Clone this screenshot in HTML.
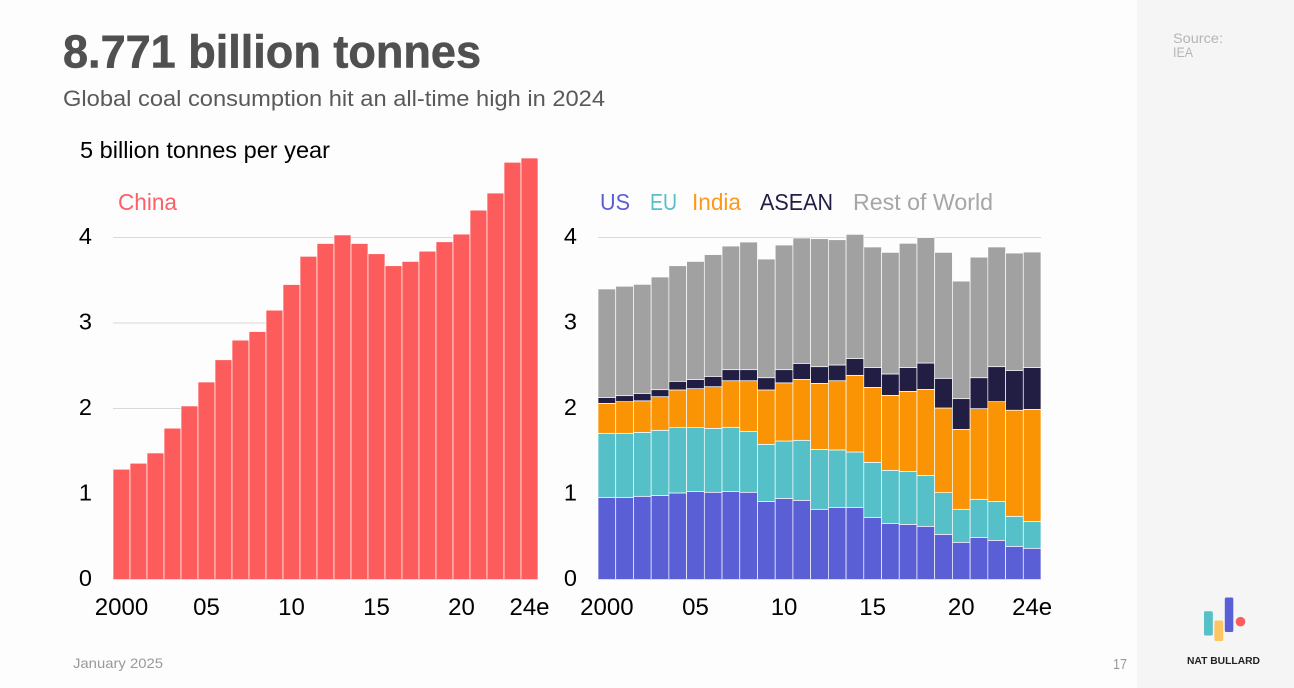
<!DOCTYPE html>
<html lang="en">
<head>
<meta charset="utf-8">
<title>8.771 billion tonnes</title>
<style>
html,body{margin:0;padding:0;background:#fdfdfe;}
body{width:1294px;height:688px;overflow:hidden;}
svg{display:block;font-family:"Liberation Sans",sans-serif;}
</style>
</head>
<body>
<svg id="slide" width="1294" height="688" viewBox="0 0 1294 688" xmlns="http://www.w3.org/2000/svg">
  <rect x="0" y="0" width="1294" height="688" fill="#fdfdfe"/>
  <rect x="1137" y="0" width="157" height="688" fill="#f5f5f6"/>

  <text x="63" y="67.5" font-size="46" font-weight="700" fill="#505050" stroke="#505050" stroke-width="0.6" textLength="418" lengthAdjust="spacingAndGlyphs">8.771 billion tonnes</text>
  <text x="63" y="106" font-size="22" fill="#595959" textLength="542" lengthAdjust="spacingAndGlyphs">Global coal consumption hit an all-time high in 2024</text>

  <text x="1173" y="43" font-size="13.5" fill="#b5b5b5" textLength="50" lengthAdjust="spacingAndGlyphs">Source:</text>
  <text x="1173" y="57" font-size="13.5" fill="#b5b5b5" textLength="20" lengthAdjust="spacingAndGlyphs">IEA</text>

  <text x="80" y="158" font-size="23" fill="#000" textLength="250" lengthAdjust="spacingAndGlyphs">5 billion tonnes per year</text>
  <text x="118" y="210" font-size="23" fill="#fc6065" textLength="59" lengthAdjust="spacingAndGlyphs">China</text>

  <text x="600" y="210" font-size="23" fill="#5a5fd6" textLength="30" lengthAdjust="spacingAndGlyphs">US</text>
  <text x="650" y="210" font-size="23" fill="#55c0c8" textLength="27" lengthAdjust="spacingAndGlyphs">EU</text>
  <text x="692" y="210" font-size="23" fill="#fb9a1a" textLength="49" lengthAdjust="spacingAndGlyphs">India</text>
  <text x="760" y="210" font-size="23" fill="#221e43" textLength="73" lengthAdjust="spacingAndGlyphs">ASEAN</text>
  <text x="853" y="210" font-size="23" fill="#a6a6a6" textLength="140" lengthAdjust="spacingAndGlyphs">Rest of World</text>

  <g id="left-chart"></g>
  <g id="right-chart"></g>

  <text x="73" y="668" font-size="14" fill="#999" textLength="90" lengthAdjust="spacingAndGlyphs">January 2025</text>
  <text x="1113" y="669" font-size="15" fill="#999" textLength="14" lengthAdjust="spacingAndGlyphs">17</text>

  <g>
    <rect x="1204" y="611.3" width="8.8" height="24.2" rx="1.5" fill="#55c0c8"/>
    <rect x="1214.4" y="620.5" width="8.8" height="20.5" rx="1.5" fill="#fdc55f"/>
    <rect x="1224.8" y="597.5" width="8.5" height="34.5" rx="1.5" fill="#5a5fd6"/>
    <circle cx="1240.5" cy="621.7" r="4.8" fill="#fc5c5c"/>
    <text x="1187" y="664" font-size="10.5" font-weight="700" fill="#222" textLength="73" lengthAdjust="spacingAndGlyphs">NAT BULLARD</text>
  </g>
</svg>
<script>
const years = [2000,2001,2002,2003,2004,2005,2006,2007,2008,2009,2010,2011,2012,2013,2014,2015,2016,2017,2018,2019,2020,2021,2022,2023,2024];
const xTickYears = [2000,2005,2010,2015,2020,2024];
const xTickLabels = ['2000','05','10','15','20','24e'];
const yTicks = [0,1,2,3,4];

const china = [1.29,1.36,1.48,1.77,2.03,2.31,2.57,2.80,2.90,3.15,3.45,3.78,3.93,4.03,3.93,3.81,3.67,3.72,3.84,3.95,4.04,4.32,4.52,4.88,4.93];

const us = [.961,.961,.973,.984,1.012,1.031,1.02,1.031,1.02,.914,.949,.926,.821,.844,.844,.727,.657,.645,.622,.528,.435,.493,.458,.388,.365];
const eu = [.749,.749,.748,.761,.764,.745,.748,.749,.713,.667,.671,.702,.701,.671,.647,.643,.62,.62,.596,.488,.386,.445,.456,.351,.315];
const india = [.35,.37,.369,.393,.441,.456,.487,.545,.592,.636,.68,.712,.772,.81,.897,.877,.877,.935,1.006,.99,.935,1.06,1.166,1.241,1.31];
const asean = [.07,.07,.087,.082,.101,.108,.121,.129,.129,.143,.154,.188,.195,.184,.195,.231,.25,.278,.308,.347,.359,.362,.409,.466,.49];
const restOfWorld = [1.268,1.28,1.275,1.318,1.352,1.38,1.424,1.446,1.493,1.388,1.458,1.466,1.497,1.465,1.454,1.411,1.422,1.454,1.466,1.473,1.375,1.41,1.40,1.372,1.35];

const chinaColor = '#fc5c5c';
const stackSeries = [
  {name:'us', values:us, color:'#5a5fd6'},
  {name:'eu', values:eu, color:'#55c0c8'},
  {name:'india', values:india, color:'#fb9404'},
  {name:'asean', values:asean, color:'#221e43'},
  {name:'rest-of-world', values:restOfWorld, color:'#a1a1a1'}
];

const NS = 'http://www.w3.org/2000/svg';
const Y0 = 579.5, UNIT = 85.5;
function yScale(v){ return Y0 - v * UNIT; }
function makeXBand(left, right){
  const step = (right - left) / years.length;
  return {
    step: step,
    start: function(year){ return left + years.indexOf(year) * step; },
    center: function(year){ return left + (years.indexOf(year) + 0.5) * step; }
  };
}
function make(tag, parent, attrs){
  const el = document.createElementNS(NS, tag);
  Object.keys(attrs).forEach(function(k){ el.setAttribute(k, attrs[k]); });
  parent.appendChild(el);
  return el;
}
function drawAxes(parent, left, right, labelRight, band){
  yTicks.forEach(function(t){
    if (t > 0) {
      const line = make('line', parent, {x1:left, x2:right, y1:yScale(t), y2:yScale(t), stroke:'#d9d9d9', 'stroke-width':1});
      
      
    }
    const label = make('text', parent, {x:labelRight, y:yScale(t) + 6.5, 'text-anchor':'end', 'font-size':23.5, fill:'#000'});
    
    
    label.textContent = t;
  });
  xTickYears.forEach(function(yr, i){
    const label = make('text', parent, {x:band.center(yr), y:615, 'text-anchor':'middle', 'font-size':24, fill:'#000'});
    
    
    label.textContent = xTickLabels[i];
  });
}
function drawBaseline(parent, left, right){
  const base = make('line', parent, {x1:left, x2:right, y1:Y0, y2:Y0, stroke:'#dcdcdc', 'stroke-width':1});
  
  
}

/* left chart */
(function(){
  const g = document.getElementById('left-chart');
  const left = 113, right = 538;
  const band = makeXBand(left, right);
  drawAxes(g, left, right, 92, band);
  years.forEach(function(yr, i){
    const top = yScale(china[i]);
    const r = make('rect', g, {x:band.start(yr), y:top, width:band.step, height:Y0 - top, fill:chinaColor, stroke:'#fff', 'stroke-width':0.7});
    
    
  });
  drawBaseline(g, left, right);
})();

/* right chart */
(function(){
  const g = document.getElementById('right-chart');
  const left = 598, right = 1041;
  const band = makeXBand(left, right);
  drawAxes(g, left, right, 577, band);
  years.forEach(function(yr, i){
    let cum = 0;
    stackSeries.forEach(function(s){
      const bottom = yScale(cum);
      cum += s.values[i];
      const top = yScale(cum);
      const r = make('rect', g, {x:band.start(yr), y:top, width:band.step, height:bottom - top, fill:s.color, stroke:'#fff', 'stroke-width':0.7});
      
      
    });
  });
  drawBaseline(g, left, right);
})();
</script>
</body>
</html>
